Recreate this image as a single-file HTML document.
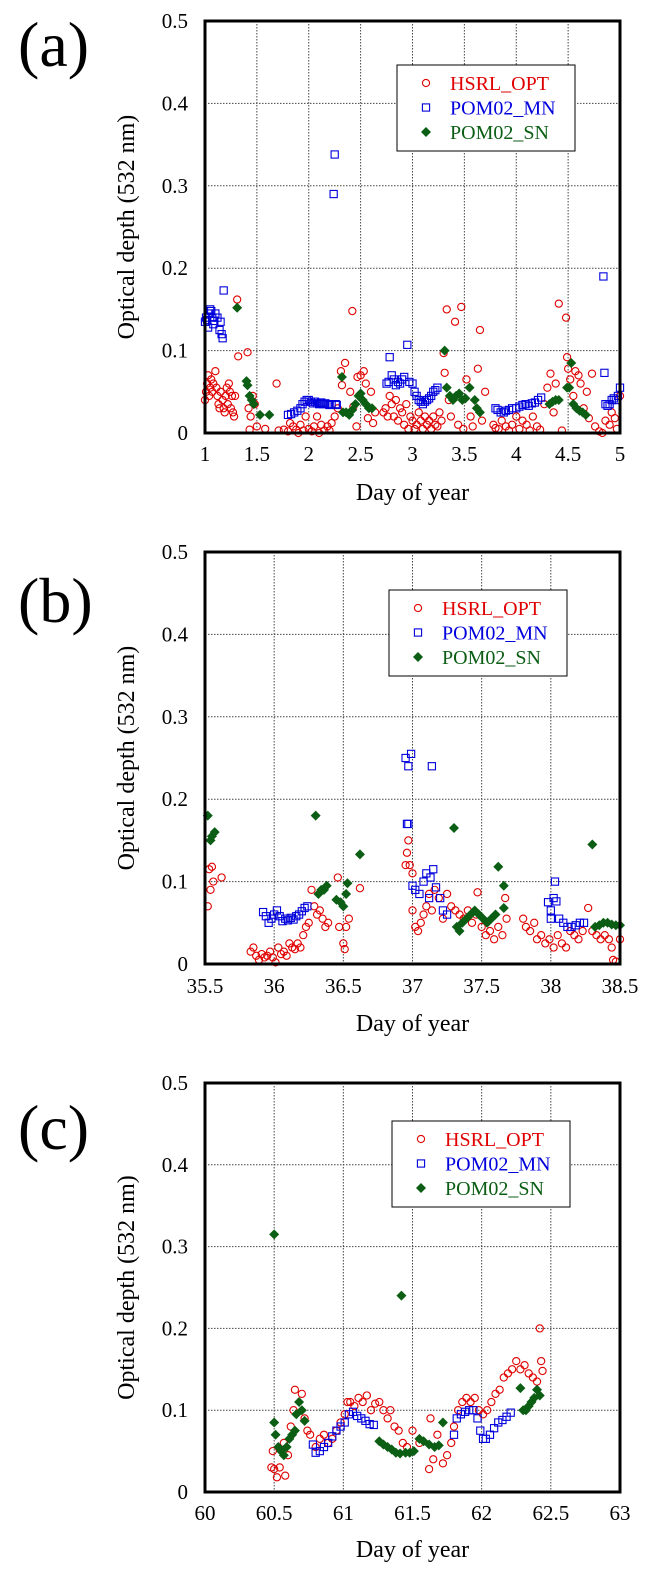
<!DOCTYPE html>
<html><head><meta charset="utf-8">
<style>
html,body{margin:0;padding:0;background:#fff;}
svg{display:block;}
svg text{font-family:"Liberation Serif","Times New Roman",serif;}
</style></head>
<body>
<svg id="chart" width="648" height="1579" viewBox="0 0 648 1579"></svg>
<script>
// ---------- Panel (a) data ----------
const aHsrlX=[1.0,1.01,1.02,1.03,1.04,1.05,1.06,1.07,1.08,1.1,1.11,1.12,1.13,1.14,1.15,1.17,1.18,1.19,1.2,1.21,1.22,1.23,1.24,1.25,1.26,1.27,1.28,1.29,1.31,1.32,1.41,1.42,1.44,1.46,1.48,1.5,1.43,1.58,1.69,1.71,1.76,1.8,1.82,1.85,1.88,1.9,1.92,1.95,1.97,2.0,2.03,2.05,2.08,2.1,2.12,2.15,2.18,2.2,2.22,2.25,2.28,2.31,2.32,2.35,2.42,2.4,2.43,2.46,2.47,2.5,2.53,2.55,2.57,2.6,2.62,2.64,2.72,2.74,2.76,2.78,2.8,2.82,2.84,2.86,2.88,2.9,2.92,2.94,2.96,2.98,3.0,3.02,3.04,3.06,3.08,3.1,3.12,3.14,3.16,3.18,3.2,3.22,3.24,3.26,3.28,3.3,3.31,3.33,3.35,3.37,3.41,3.44,3.47,3.49,3.52,3.56,3.58,3.63,3.65,3.67,3.7,3.78,3.8,3.83,3.86,3.9,3.93,3.96,4.0,4.03,4.06,4.1,4.13,4.16,4.2,4.23,4.27,4.3,4.33,4.36,4.38,4.41,4.44,4.48,4.49,4.5,4.52,4.55,4.57,4.6,4.62,4.65,4.68,4.7,4.73,4.76,4.8,4.83,4.86,4.9,4.92,4.95,4.97,5.0];
const aHsrlY=[0.04,0.05,0.06,0.07,0.045,0.055,0.065,0.05,0.06,0.075,0.055,0.045,0.035,0.03,0.05,0.04,0.03,0.025,0.045,0.055,0.035,0.06,0.05,0.03,0.045,0.025,0.02,0.045,0.162,0.093,0.098,0.03,0.02,0.045,0.035,0.008,0.004,0.005,0.06,0.003,0.004,0.002,0.012,0.008,0.004,0.0,0.01,0.003,0.02,0.005,0.002,0.008,0.02,0.0,0.01,0.003,0.008,0.003,0.012,0.02,0.03,0.075,0.058,0.085,0.148,0.05,0.032,0.008,0.068,0.07,0.075,0.06,0.018,0.05,0.012,0.025,0.025,0.03,0.02,0.045,0.035,0.02,0.04,0.015,0.03,0.025,0.01,0.035,0.005,0.02,0.015,0.005,0.01,0.025,0.015,0.005,0.02,0.01,0.015,0.005,0.02,0.01,0.008,0.025,0.015,0.097,0.073,0.15,0.04,0.02,0.135,0.01,0.153,0.005,0.065,0.02,0.008,0.078,0.125,0.015,0.05,0.01,0.006,0.005,0.015,0.008,0.003,0.01,0.02,0.005,0.015,0.01,0.003,0.02,0.008,0.004,0.035,0.055,0.072,0.025,0.06,0.157,0.003,0.14,0.092,0.078,0.065,0.045,0.075,0.07,0.06,0.03,0.05,0.018,0.072,0.008,0.002,0.0,0.015,0.01,0.025,0.018,0.005,0.045];
const aMnX=[1.0,1.01,1.02,1.03,1.04,1.05,1.06,1.07,1.08,1.09,1.1,1.12,1.14,1.15,1.16,1.17,1.18,1.8,1.83,1.86,1.89,1.92,1.94,1.96,1.98,2.0,2.02,2.04,2.06,2.08,2.1,2.12,2.14,2.16,2.18,2.2,2.22,2.24,2.25,2.26,2.27,2.75,2.77,2.78,2.8,2.82,2.84,2.86,2.88,2.9,2.92,2.95,2.97,3.0,3.02,3.04,3.06,3.08,3.1,3.12,3.14,3.16,3.18,3.2,3.22,3.24,3.8,3.82,3.85,3.88,3.9,3.93,3.96,4.0,4.03,4.06,4.09,4.12,4.15,4.18,4.21,4.24,4.84,4.85,4.86,4.88,4.9,4.92,4.94,4.96,4.98,5.0];
const aMnY=[0.135,0.14,0.137,0.128,0.145,0.15,0.148,0.14,0.132,0.136,0.145,0.14,0.125,0.135,0.12,0.115,0.173,0.022,0.023,0.025,0.027,0.03,0.035,0.038,0.04,0.04,0.038,0.036,0.038,0.036,0.035,0.037,0.035,0.036,0.035,0.034,0.035,0.29,0.338,0.035,0.034,0.06,0.062,0.092,0.07,0.065,0.058,0.062,0.06,0.065,0.068,0.107,0.062,0.06,0.05,0.045,0.04,0.038,0.035,0.038,0.04,0.042,0.045,0.05,0.052,0.055,0.03,0.028,0.025,0.025,0.027,0.028,0.03,0.03,0.032,0.034,0.035,0.033,0.036,0.037,0.04,0.043,0.19,0.073,0.035,0.033,0.035,0.04,0.042,0.04,0.045,0.055];
const aSnX=[1.31,1.4,1.41,1.43,1.45,1.47,1.53,1.62,2.32,2.33,2.36,2.39,2.42,2.45,2.48,2.5,2.52,2.55,2.58,2.61,3.31,3.33,3.36,3.39,3.42,3.45,3.48,3.51,3.55,3.6,3.62,3.65,4.32,4.35,4.38,4.41,4.49,4.51,4.53,4.55,4.58,4.61,4.64,4.67];
const aSnY=[0.152,0.063,0.058,0.045,0.04,0.035,0.022,0.022,0.068,0.025,0.025,0.022,0.028,0.035,0.045,0.048,0.04,0.035,0.03,0.03,0.1,0.055,0.045,0.04,0.045,0.048,0.04,0.042,0.055,0.04,0.03,0.025,0.035,0.038,0.04,0.04,0.055,0.055,0.085,0.035,0.03,0.027,0.025,0.022];
// ---------- Panel (b) data ----------
const bHsrlX=[35.52,35.53,35.54,35.55,35.56,35.62,35.83,35.85,35.87,35.89,35.91,35.93,35.95,35.97,35.99,36.01,36.03,36.05,36.07,36.09,36.11,36.13,36.15,36.17,36.19,36.21,36.23,36.25,36.27,36.29,36.31,36.33,36.35,36.37,36.39,36.46,36.47,36.5,36.51,36.52,36.54,36.62,36.95,36.96,36.97,36.98,37.0,37.0,37.02,37.04,37.06,37.08,37.1,37.12,37.14,37.16,37.19,37.22,37.25,37.28,37.31,37.34,37.37,37.4,37.43,37.46,37.47,37.5,37.53,37.56,37.59,37.62,37.65,37.67,37.68,37.8,37.82,37.85,37.88,37.9,37.93,37.96,37.99,38.02,38.05,38.08,38.11,38.14,38.17,38.2,38.23,38.27,38.3,38.33,38.36,38.39,38.42,38.44,38.45,38.47,38.5];
const bHsrlY=[0.07,0.115,0.09,0.118,0.1,0.105,0.015,0.02,0.01,0.005,0.012,0.008,0.01,0.015,0.008,0.002,0.02,0.012,0.015,0.01,0.025,0.02,0.018,0.025,0.02,0.035,0.045,0.05,0.09,0.07,0.06,0.065,0.055,0.045,0.05,0.105,0.045,0.025,0.018,0.045,0.055,0.092,0.12,0.135,0.15,0.12,0.11,0.065,0.045,0.04,0.05,0.06,0.07,0.085,0.065,0.09,0.08,0.055,0.085,0.07,0.065,0.06,0.055,0.065,0.05,0.06,0.087,0.045,0.035,0.04,0.03,0.045,0.035,0.08,0.055,0.055,0.045,0.04,0.05,0.03,0.035,0.025,0.03,0.02,0.035,0.025,0.02,0.04,0.035,0.03,0.04,0.068,0.04,0.035,0.03,0.035,0.03,0.02,0.005,0.003,0.03];
const bMnX=[35.92,35.94,35.96,35.98,36.0,36.02,36.04,36.06,36.08,36.1,36.12,36.14,36.16,36.18,36.2,36.22,36.24,36.95,36.96,36.97,36.97,36.99,37.14,37.0,37.02,37.05,37.08,37.1,37.12,37.13,37.15,37.17,37.2,37.22,37.25,37.98,38.0,38.0,38.02,38.03,38.04,38.06,38.09,38.12,38.15,38.18,38.21,38.24];
const bMnY=[0.063,0.058,0.05,0.055,0.06,0.065,0.058,0.052,0.055,0.053,0.056,0.054,0.058,0.06,0.064,0.068,0.07,0.25,0.17,0.24,0.17,0.255,0.24,0.095,0.09,0.085,0.1,0.11,0.08,0.105,0.115,0.093,0.08,0.065,0.06,0.075,0.065,0.055,0.08,0.1,0.076,0.055,0.05,0.045,0.045,0.047,0.05,0.05];
const bSnX=[35.52,35.54,35.55,35.57,36.3,36.32,36.34,36.36,36.38,36.45,36.48,36.5,36.52,36.53,36.62,37.3,37.32,37.34,37.36,37.39,37.42,37.45,37.48,37.51,37.54,37.57,37.6,37.62,37.66,37.66,38.3,38.32,38.35,38.38,38.41,38.44,38.47,38.5];
const bSnY=[0.18,0.15,0.155,0.16,0.18,0.085,0.09,0.09,0.095,0.078,0.075,0.07,0.085,0.098,0.133,0.165,0.045,0.04,0.05,0.055,0.06,0.065,0.06,0.055,0.05,0.055,0.06,0.118,0.095,0.068,0.145,0.045,0.047,0.05,0.05,0.048,0.047,0.047];
// ---------- Panel (c) data ----------
const cHsrlX=[60.48,60.49,60.5,60.52,60.54,60.58,60.6,60.57,60.62,60.64,60.65,60.7,60.72,60.74,60.76,60.8,60.83,60.86,60.89,60.92,60.95,60.98,61.01,61.03,61.05,61.08,61.11,61.14,61.17,61.2,61.23,61.26,61.29,61.32,61.34,61.37,61.4,61.43,61.46,61.5,61.55,61.62,61.63,61.65,61.68,61.72,61.75,61.78,61.8,61.83,61.86,61.89,61.92,61.95,61.98,62.01,62.04,62.07,62.1,62.13,62.16,62.19,62.22,62.25,62.28,62.31,62.34,62.37,62.4,62.42,62.43,62.44];
const cHsrlY=[0.03,0.05,0.028,0.018,0.03,0.02,0.045,0.06,0.08,0.1,0.125,0.12,0.09,0.075,0.07,0.055,0.065,0.07,0.06,0.065,0.075,0.085,0.095,0.11,0.11,0.105,0.115,0.11,0.118,0.1,0.108,0.11,0.1,0.09,0.1,0.08,0.075,0.06,0.055,0.075,0.06,0.028,0.09,0.04,0.07,0.035,0.045,0.06,0.08,0.1,0.11,0.115,0.11,0.115,0.1,0.095,0.1,0.11,0.12,0.125,0.14,0.145,0.15,0.16,0.15,0.155,0.145,0.14,0.135,0.2,0.16,0.148];
const cMnX=[60.78,60.8,60.83,60.86,60.89,60.92,60.95,60.98,61.01,61.04,61.07,61.1,61.13,61.16,61.19,61.22,61.8,61.82,61.85,61.88,61.91,61.94,61.97,61.99,62.01,62.03,62.06,62.09,62.12,62.15,62.18,62.21];
const cMnY=[0.058,0.048,0.05,0.055,0.06,0.068,0.075,0.08,0.085,0.095,0.098,0.093,0.09,0.087,0.083,0.082,0.07,0.09,0.095,0.098,0.1,0.1,0.09,0.075,0.065,0.065,0.07,0.078,0.085,0.088,0.092,0.097];
const cSnX=[60.5,60.5,60.51,60.53,60.55,60.57,60.59,60.61,60.63,60.65,60.66,60.68,60.7,60.72,61.26,61.29,61.32,61.35,61.38,61.41,61.42,61.45,61.48,61.51,61.55,61.58,61.62,61.66,61.69,61.72,62.28,62.3,62.32,62.34,62.36,62.38,62.4,62.42];
const cSnY=[0.315,0.085,0.07,0.055,0.05,0.045,0.055,0.065,0.07,0.075,0.095,0.11,0.1,0.087,0.062,0.058,0.055,0.052,0.048,0.047,0.24,0.048,0.048,0.05,0.065,0.062,0.058,0.055,0.057,0.085,0.127,0.1,0.1,0.105,0.11,0.115,0.125,0.118];

const yTickVals=[0,0.1,0.2,0.3,0.4,0.5];
const yTickLabels=['0','0.1','0.2','0.3','0.4','0.5'];
const aXTicks=[1,1.5,2,2.5,3,3.5,4,4.5,5];
const aXLabels=['1','1.5','2','2.5','3','3.5','4','4.5','5'];
const bXTicks=[35.5,36,36.5,37,37.5,38,38.5];
const bXLabels=['35.5','36','36.5','37','37.5','38','38.5'];
const cXTicks=[60,60.5,61,61.5,62,62.5,63];
const cXLabels=['60','60.5','61','61.5','62','62.5','63'];

const NS='http://www.w3.org/2000/svg';
const svg=document.getElementById('chart');
function mk(tag,attrs,parent){const e=document.createElementNS(NS,tag);for(const k in attrs)e.setAttribute(k,attrs[k]);(parent||svg).appendChild(e);return e;}

function panel(id,letter,top,bottom,legX,legY,xTicks,xLabels,xlblY,titleY,letterY,hX,hY,mX,mY,sX,sY){
  const L=205,R=620,x0=xTicks[0],x1=xTicks[xTicks.length-1];
  const sx=v=>L+(v-x0)/(x1-x0)*(R-L);
  const sy=v=>bottom-v/0.5*(bottom-top);
  const g=mk('g',{});
  
  
  const lt=mk('text',{x:18,y:letterY,'font-size':64},g);lt.textContent='('+letter+')';
  
  
  xTicks.forEach((t,i)=>{
    if(i>0&&i<xTicks.length-1){const gl=mk('line',{x1:sx(t),x2:sx(t),y1:top,y2:bottom,stroke:'#444','stroke-width':1,'stroke-dasharray':'1.5,1.5'},g);
    
    }
    const tl=mk('text',{x:sx(t),y:xlblY,'font-size':21,'text-anchor':'middle'},g);tl.textContent=xLabels[i];
    
    
  });
  yTickVals.forEach((t,i)=>{
    if(i>0&&i<yTickVals.length-1){const gl=mk('line',{x1:L,x2:R,y1:sy(t),y2:sy(t),stroke:'#444','stroke-width':1,'stroke-dasharray':'1.5,1.5'},g);
    
    }
    const tl=mk('text',{x:188,y:sy(t)+7,'font-size':21,'text-anchor':'end'},g);tl.textContent=yTickLabels[i];
    
    
  });
  const yt=mk('text',{x:0,y:0,'font-size':24,'text-anchor':'middle',transform:`translate(134,${(top+bottom)/2}) rotate(-90)`},g);yt.textContent='Optical depth (532 nm)';
  
  
  const xt=mk('text',{x:(L+R)/2,y:titleY,'font-size':24,'text-anchor':'middle'},g);xt.textContent='Day of year';
  
  
  const lg=mk('g',{},g);
  
  
  mk('rect',{x:legX,y:legY,width:178,height:86,fill:'#fff',stroke:'#000','stroke-width':1},lg);
  const ents=[['HSRL_OPT','#e00000','c'],['POM02_MN','#0000dd','s'],['POM02_SN','#0b5e14','d']];
  ents.forEach((e,i)=>{const yy=legY+18+i*24.5;
    marker(lg,e[2],legX+29,yy);
    const tx=mk('text',{x:legX+53,y:yy+7,'font-size':20,fill:e[1]},lg);tx.textContent=e[0];
    
    });
  const sg=mk('g',{},g);
  
  
  hX.forEach((v,i)=>{const m=marker(sg,'c',sx(v),sy(hY[i]));});
  const mg=mk('g',{},g);
  
  
  mX.forEach((v,i)=>{const m=marker(mg,'s',sx(v),sy(mY[i]));});
  const dg=mk('g',{},g);
  
  
  sX.forEach((v,i)=>{const m=marker(dg,'d',sx(v),sy(sY[i]));});
  const fr=mk('rect',{x:L,y:top,width:R-L,height:bottom-top,fill:'none',stroke:'#000','stroke-width':3},g);
  
  
}
function marker(p,t,x,y){
  if(t==='c')return mk('circle',{cx:x,cy:y,r:3.6,fill:'none',stroke:'#e00000','stroke-width':1.1},p);
  if(t==='s')return mk('rect',{x:x-3.6,y:y-3.6,width:7.2,height:7.2,fill:'none',stroke:'#0000dd','stroke-width':1.1},p);
  return mk('path',{d:`M${x} ${y-5}L${x+5} ${y}L${x} ${y+5}L${x-5} ${y}Z`,fill:'#0b5e14'},p);
}
panel('a','a',21,433,397,65,aXTicks,aXLabels,461,500,66,aHsrlX,aHsrlY,aMnX,aMnY,aSnX,aSnY);
panel('b','b',552,964,389,590,bXTicks,bXLabels,993,1031,622,bHsrlX,bHsrlY,bMnX,bMnY,bSnX,bSnY);
panel('c','c',1083,1492,392,1121,cXTicks,cXLabels,1520,1557,1149,cHsrlX,cHsrlY,cMnX,cMnY,cSnX,cSnY);
</script>
</body></html>
